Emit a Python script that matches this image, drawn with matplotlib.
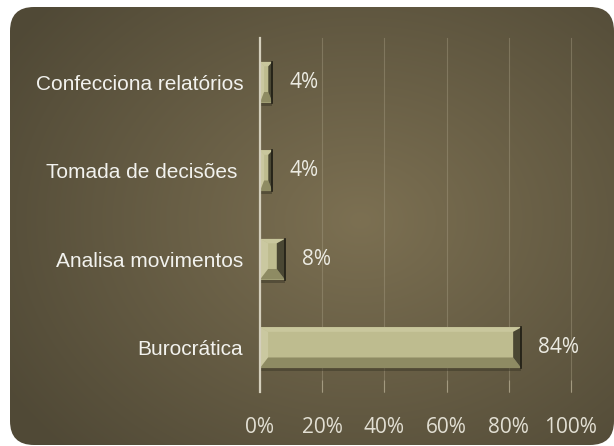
import numpy as np
import matplotlib
matplotlib.use("Agg")
import matplotlib.pyplot as plt
from matplotlib.patches import FancyBboxPatch, Polygon

categories = ["Burocrática", "Analisa movimentos", "Tomada de decisões ", "Confecciona relatórios"]
values = [84, 8, 4, 4]
xticks = [0, 20, 40, 60, 80, 100]
xtick_labels = ["0%", "20%", "40%", "60%", "80%", "100%"]

W, H = 614, 446
fig = plt.figure(figsize=(W / 100, H / 100), dpi=100)
fig.patch.set_facecolor("white")

# background panel: rounded box with a radial brown gradient
bg = fig.add_axes([0, 0, 1, 1])
bg.set_xlim(0, W)
bg.set_ylim(H, 0)
bg.axis("off")
yy, xx = np.mgrid[0:H, 0:W]
r = np.sqrt(((xx - 360) / 420.0) ** 2 + ((yy - 220) / 330.0) ** 2)
r = np.clip(r, 0, 1)
c_in = np.array([0x7c, 0x70, 0x52]) / 255
c_out = np.array([0x50, 0x49, 0x36]) / 255
img = c_in[None, None, :] * (1 - r[..., None]) + c_out[None, None, :] * r[..., None]
im = bg.imshow(img, extent=(0, W, H, 0), interpolation="bilinear")
panel = FancyBboxPatch((10, 7), 604, 438, boxstyle="round,pad=0,rounding_size=24",
                       transform=bg.transData, facecolor="none", edgecolor="none")
bg.add_patch(panel)
im.set_clip_path(panel)

ax = fig.add_axes([260 / W, 1 - 392 / H, (571 - 260) / W, (392 - 38) / H])
ax.patch.set_alpha(0)
y = np.arange(len(categories))
h = 0.46
bars = ax.barh(y, values, height=h, color="#bebc8f", edgecolor="none", zorder=3)

# bevel facets on each bar
for b, v in zip(bars, values):
    x0, y0 = b.get_x(), b.get_y()
    x1, y1 = x0 + b.get_width(), y0 + b.get_height()
    dx = min(2.6, v / 3.0)
    dt, db = 0.05, 0.12
    # soft shadow under the bar
    ax.add_patch(Polygon([(x0, y0), (x1, y0), (x1, y0 - 0.035), (x0, y0 - 0.035)],
                         closed=True, facecolor="#3b3727", alpha=0.5, edgecolor="none", zorder=2))
    facets = [
        ([(x0, y1), (x1, y1), (x1 - dx, y1 - dt), (x0 + dx, y1 - dt)], "#c9c79d"),
        ([(x0, y0), (x0, y1), (x0 + dx, y1 - dt), (x0 + dx, y0 + db)], "#cac8a0"),
        ([(x0, y0), (x1, y0), (x1 - dx, y0 + db), (x0 + dx, y0 + db)], "#8e8b63"),
        ([(x1, y0), (x1, y1), (x1 - dx, y1 - dt), (x1 - dx, y0 + db)], "#4a4733"),
    ]
    for pts, col in facets:
        ax.add_patch(Polygon(pts, closed=True, facecolor=col, edgecolor="none", zorder=4))
    ax.plot([x1, x1], [y0, y1], color="#1f1d14", linewidth=1.2, zorder=5)
    ax.text(x1 + 5.5, b.get_y() + b.get_height() / 2, f"{v}%", va="center", ha="left",
            color="#ecebe2", fontsize=15, family="Open Sans", zorder=5)

ax.set_xlim(0, 100)
ax.set_ylim(-0.5, len(categories) - 0.5)
ax.set_xticks(xticks)
ax.set_xticklabels(xtick_labels, family="Open Sans", fontsize=15, color="#e2dfd3")
ax.set_yticks(y)
ax.set_yticklabels(categories, family="Liberation Sans", fontsize=15, color="#f2f2ee")
ax.grid(axis="x", color="#a39a80", linewidth=0.8, alpha=0.45, zorder=1)
for gl in ax.get_xgridlines():
    gl.set_clip_on(False)
for s in ["top", "right", "bottom"]:
    ax.spines[s].set_visible(False)
ax.spines["left"].set_color("#d4cfbc")
ax.spines["left"].set_linewidth(1.6)
ax.spines["left"].set_zorder(6)
ax.tick_params(axis="x", length=9, direction="in", color="#a39a80", pad=18)
ax.tick_params(axis="y", length=0, pad=12)

fig.savefig("out.png", dpi=100)
